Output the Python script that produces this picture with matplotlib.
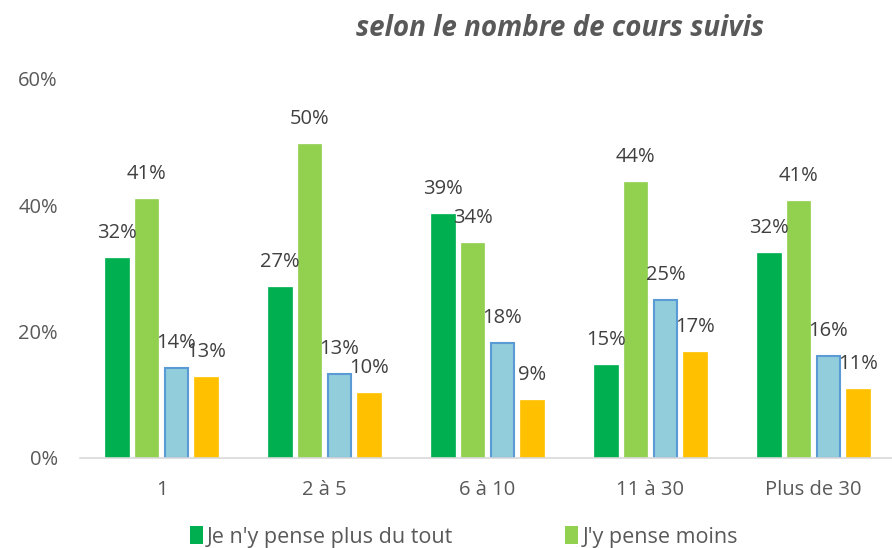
import numpy as np
import matplotlib
matplotlib.use('Agg')
import matplotlib.pyplot as plt
from matplotlib.patches import Patch

plt.rcParams['font.family'] = ['Open Sans', 'DejaVu Sans']

# data
categories = ['1', '2 à 5', '6 à 10', '11 à 30', 'Plus de 30']
plus_du_tout = [31.6, 27.1, 38.6, 14.6, 32.4]
pense_moins = [41.0, 49.6, 34.0, 43.7, 40.6]
serie_3 = [14.2, 13.2, 18.2, 25.0, 16.1]
serie_4 = [12.7, 10.2, 9.2, 16.8, 10.8]
legend_labels = ["Je n'y pense plus du tout", "J'y pense moins"]
title = 'selon le nombre de cours suivis'
yticks = [0, 20, 40, 60]

series = [plus_du_tout, pense_moins, serie_3, serie_4]
colors = ['#00B050', '#92D050', '#92CDDC', '#FFC000']
edges = ['#00B050', '#92D050', '#5B9BD5', '#FFC000']

fig = plt.figure(figsize=(8.92, 5.48), dpi=100)
ax = fig.add_axes([80 / 892, 1 - 457.7 / 548, 815 / 892, 379 / 548])

x = np.arange(len(categories))
pitch = 0.182
width = 0.143
for i, vals in enumerate(series):
    pos = x + (i - 1.5) * pitch
    ax.bar(pos, vals, width, color=colors[i], edgecolor=edges[i],
           linewidth=1.5 if i == 2 else 0.5, zorder=2)
    for xp, v in zip(pos, vals):
        ax.annotate(f'{v:.0f}%', (xp, v), xytext=(0, 18), textcoords='offset points',
                    ha='center', va='center', fontsize=14.5, color='#404040')

ax.set_xlim(-0.5, len(categories) - 0.5)
ax.set_ylim(0, 60)
ax.set_yticks(yticks)
ax.set_yticklabels([f'{t}%' for t in yticks])
ax.set_xticks(x)
ax.set_xticklabels(categories)
ax.tick_params(axis='both', length=0, labelsize=14.5, labelcolor='#595959')
ax.tick_params(axis='y', pad=16)
ax.tick_params(axis='x', pad=16)
for s in ['top', 'right', 'left']:
    ax.spines[s].set_visible(False)
ax.spines['bottom'].set_color('#D9D9D9')
ax.spines['bottom'].set_linewidth(1.2)
ax.spines['bottom'].set_zorder(3)

fig.text(560 / 892, 1 - 28 / 548, title, ha='center', va='center', fontsize=20,
         fontweight='bold', fontstyle='italic', color='#595959')

handles = [Patch(facecolor=colors[0]), Patch(facecolor=colors[1])]
fig.legend(handles, legend_labels, loc='center left', bbox_to_anchor=(190 / 892, 1 - 537 / 548),
           ncol=2, frameon=False, fontsize=15.5, labelcolor='#595959',
           handlelength=0.6, handleheight=0.9, handletextpad=0.2, columnspacing=5.2,
           borderpad=0, borderaxespad=0)

fig.savefig('out.png', dpi=100)
